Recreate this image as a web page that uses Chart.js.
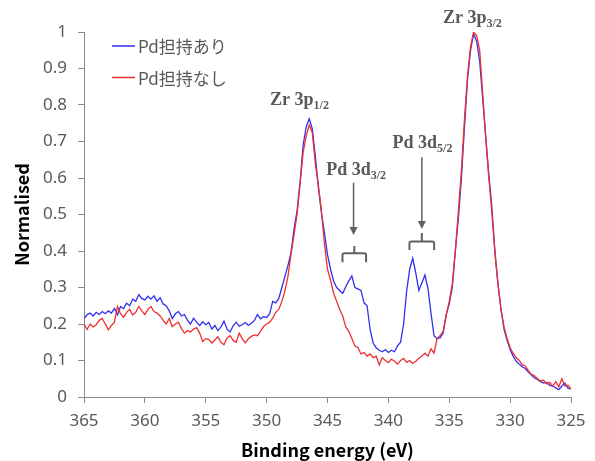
<!DOCTYPE html>
<html>
<head>
<meta charset="utf-8">
<script src="https://cdn.jsdelivr.net/npm/chart.js@4.4.1/dist/chart.umd.min.js"></script>
<style>
  html, body { margin: 0; padding: 0; background: #fff; }
  #wrap { width: 595px; height: 461px; }
</style>
</head>
<body>
<div id="wrap"><canvas id="myChart" width="595" height="461"></canvas></div>
<script>
// XPS spectrum, 0.25 eV steps
const energy = [
  365.00,364.75,364.50,364.25,364.00,363.75,363.50,363.25,363.00,362.75,362.50,362.25,362.00,361.75,361.50,361.25,361.00,360.75,360.50,360.25,
  360.00,359.75,359.50,359.25,359.00,358.75,358.50,358.25,358.00,357.75,357.50,357.25,357.00,356.75,356.50,356.25,356.00,355.75,355.50,355.25,
  355.00,354.75,354.50,354.25,354.00,353.75,353.50,353.25,353.00,352.75,352.50,352.25,352.00,351.75,351.50,351.25,351.00,350.75,350.50,350.25,
  350.00,349.75,349.50,349.25,349.00,348.75,348.50,348.25,348.00,347.75,347.50,347.25,347.00,346.75,346.50,346.25,346.00,345.75,345.50,345.25,
  345.00,344.75,344.50,344.25,344.00,343.75,343.50,343.25,343.00,342.75,342.50,342.25,342.00,341.75,341.50,341.25,341.00,340.75,340.50,340.25,
  340.00,339.75,339.50,339.25,339.00,338.75,338.50,338.25,338.00,337.75,337.50,337.25,337.00,336.75,336.50,336.25,336.00,335.75,335.50,335.25,
  335.00,334.75,334.50,334.25,334.00,333.75,333.50,333.25,333.00,332.75,332.50,332.25,332.00,331.75,331.50,331.25,331.00,330.75,330.50,330.25,
  330.00,329.75,329.50,329.25,329.00,328.75,328.50,328.25,328.00,327.75,327.50,327.25,327.00,326.75,326.50,326.25,326.00,325.75,325.50,325.25,
  325.00
];

// Pd担持あり
const withPd = [
  0.215,0.225,0.230,0.222,0.232,0.226,0.234,0.228,0.236,0.230,0.243,0.225,0.248,0.242,0.257,0.250,0.268,0.262,0.280,0.270,
  0.266,0.276,0.268,0.277,0.262,0.272,0.255,0.250,0.236,0.215,0.228,0.234,0.222,0.226,0.210,0.200,0.216,0.205,0.196,0.206,
  0.198,0.204,0.186,0.196,0.182,0.192,0.208,0.186,0.178,0.195,0.205,0.194,0.198,0.204,0.196,0.202,0.210,0.226,0.214,0.220,
  0.218,0.228,0.262,0.258,0.270,0.300,0.330,0.360,0.395,0.460,0.510,0.590,0.690,0.740,0.762,0.735,0.660,0.575,0.505,0.450,
  0.390,0.350,0.318,0.300,0.292,0.284,0.302,0.318,0.332,0.300,0.296,0.292,0.258,0.250,0.185,0.148,0.135,0.128,0.124,0.130,
  0.122,0.128,0.124,0.140,0.150,0.200,0.290,0.350,0.380,0.340,0.292,0.312,0.334,0.298,0.230,0.168,0.160,0.162,0.175,0.225,
  0.255,0.300,0.400,0.490,0.600,0.740,0.870,0.950,0.995,0.975,0.920,0.815,0.710,0.610,0.520,0.400,0.310,0.240,0.185,0.155,
  0.130,0.112,0.098,0.090,0.082,0.078,0.068,0.060,0.052,0.048,0.042,0.038,0.040,0.032,0.030,0.025,0.020,0.030,0.038,0.024,
  0.022
];

// Pd担持なし
const withoutPd = [
  0.200,0.185,0.200,0.192,0.198,0.210,0.215,0.200,0.184,0.196,0.205,0.248,0.228,0.218,0.232,0.240,0.225,0.232,0.248,0.236,
  0.226,0.240,0.248,0.234,0.230,0.222,0.210,0.200,0.215,0.193,0.200,0.205,0.188,0.175,0.182,0.178,0.186,0.190,0.175,0.152,
  0.160,0.158,0.148,0.156,0.165,0.150,0.143,0.162,0.168,0.155,0.150,0.175,0.160,0.148,0.160,0.166,0.170,0.168,0.180,0.193,
  0.200,0.205,0.216,0.232,0.240,0.262,0.290,0.330,0.390,0.445,0.500,0.585,0.670,0.715,0.745,0.725,0.640,0.580,0.510,0.420,
  0.350,0.320,0.285,0.262,0.240,0.222,0.192,0.180,0.160,0.140,0.135,0.118,0.122,0.112,0.118,0.108,0.112,0.088,0.108,0.100,
  0.094,0.104,0.098,0.090,0.100,0.106,0.095,0.100,0.092,0.098,0.106,0.112,0.120,0.112,0.132,0.120,0.160,0.168,0.180,0.225,
  0.262,0.310,0.400,0.510,0.620,0.760,0.880,0.960,1.000,0.990,0.950,0.830,0.710,0.600,0.505,0.395,0.310,0.240,0.192,0.160,
  0.135,0.120,0.108,0.100,0.088,0.085,0.072,0.062,0.058,0.050,0.044,0.046,0.036,0.040,0.030,0.042,0.028,0.050,0.030,0.032,
  0.022
];

const xTicks = [365, 360, 355, 350, 345, 340, 335, 330, 325];
const yTicks = [0, 0.1, 0.2, 0.3, 0.4, 0.5, 0.6, 0.7, 0.8, 0.9, 1];

const seriesNames = ['Pd担持あり', 'Pd担持なし'];
const seriesColors = ['#3030ee', '#ee2f2f'];

// peak labels: [main text, subscript, energy, value]
const peakLabels = [
  ['Zr 3p', '1/2', 347.3, 0.800],
  ['Zr 3p', '3/2', 333.1, 1.025],
  ['Pd 3d', '3/2', 342.65, 0.608],
  ['Pd 3d', '5/2', 337.2, 0.683]
];
// arrows: [energy, top value, tip value]
const arrows = [
  [342.86, 0.587, 0.444],
  [337.25, 0.657, 0.460]
];
// brackets: [left energy, right energy, bar value, tip value, nub value]
const brackets = [
  [343.77, 341.83, 0.394, 0.369, 0.414],
  [338.27, 336.24, 0.426, 0.403, 0.449]
];

const gray = '#595959';
const axisGray = '#8c8c8c';

const pts = (ys) => energy.map((e, i) => ({ x: e, y: ys[i] }));

const decorPlugin = {
  id: 'decor',
  afterDraw(chart) {
    const ctx = chart.ctx;
    const xs = chart.scales.x, ys = chart.scales.y;
    ctx.save();

    // legend
    ctx.font = '17px "Noto Sans CJK JP"';
    ctx.textBaseline = 'middle';
    ctx.textAlign = 'left';
    seriesNames.forEach((name, i) => {
      const ly = 46 + i * 31.5;
      ctx.strokeStyle = seriesColors[i];
      ctx.lineWidth = 1.5;
      ctx.beginPath();
      ctx.moveTo(112, ly);
      ctx.lineTo(135, ly);
      ctx.stroke();
      ctx.fillStyle = gray;
      ctx.fillText(name, 138, ly + 1);
    });

    // peak names
    ctx.fillStyle = gray;
    ctx.textBaseline = 'alphabetic';
    peakLabels.forEach(([main, sub, e, v]) => {
      ctx.font = 'bold 18px "Liberation Serif"';
      const w1 = ctx.measureText(main).width;
      ctx.font = 'bold 12px "Liberation Serif"';
      const w2 = ctx.measureText(sub).width;
      const x0 = xs.getPixelForValue(e) - (w1 + w2) / 2;
      const y0 = ys.getPixelForValue(v);
      ctx.font = 'bold 18px "Liberation Serif"';
      ctx.fillText(main, x0, y0);
      ctx.font = 'bold 12px "Liberation Serif"';
      ctx.fillText(sub, x0 + w1, y0 + 4);
    });

    // arrows
    ctx.strokeStyle = '#606060';
    ctx.fillStyle = '#606060';
    ctx.lineWidth = 1.5;
    arrows.forEach(([e, top, tip]) => {
      const ax = xs.getPixelForValue(e);
      const y1 = ys.getPixelForValue(top), y2 = ys.getPixelForValue(tip);
      ctx.beginPath();
      ctx.moveTo(ax, y1);
      ctx.lineTo(ax, y2 - 6);
      ctx.stroke();
      ctx.beginPath();
      ctx.moveTo(ax - 4, y2 - 8);
      ctx.lineTo(ax + 4, y2 - 8);
      ctx.lineTo(ax, y2);
      ctx.closePath();
      ctx.fill();
    });

    // brackets
    ctx.lineWidth = 2;
    brackets.forEach(([e1, e2, bar, tip, nub]) => {
      const x1 = xs.getPixelForValue(e1), x2 = xs.getPixelForValue(e2);
      const xm = (x1 + x2) / 2;
      const yb = ys.getPixelForValue(bar), yt = ys.getPixelForValue(tip), yn = ys.getPixelForValue(nub);
      ctx.beginPath();
      ctx.moveTo(x1, yt);
      ctx.lineTo(x1, yb + 2);
      ctx.quadraticCurveTo(x1, yb, x1 + 2, yb);
      ctx.lineTo(x2 - 2, yb);
      ctx.quadraticCurveTo(x2, yb, x2, yb + 2);
      ctx.lineTo(x2, yt);
      ctx.moveTo(xm, yb);
      ctx.lineTo(xm, yn);
      ctx.stroke();
    });

    ctx.restore();
  }
};

const ctx = document.getElementById('myChart');

const myChart = new Chart(ctx, {
  type: 'scatter',
  data: {
    datasets: [
      {
        label: seriesNames[0],
        data: pts(withPd),
        showLine: true,
        borderColor: seriesColors[0],
        borderWidth: 1.3,
        pointRadius: 0,
        order: 2
      },
      {
        label: seriesNames[1],
        data: pts(withoutPd),
        showLine: true,
        borderColor: seriesColors[1],
        borderWidth: 1.3,
        pointRadius: 0,
        order: 1
      }
    ]
  },
  options: {
    responsive: false,
    animation: false,
    devicePixelRatio: 1,
    layout: { padding: { top: 32, right: 24, bottom: 0, left: 0 } },
    plugins: {
      legend: { display: false },
      tooltip: { enabled: false }
    },
    scales: {
      x: {
        type: 'linear',
        reverse: true,
        min: 325,
        max: 365,
        afterBuildTicks: (s) => { s.ticks = xTicks.map(v => ({ value: v })); },
        afterFit: (s) => { s.height = 64; },
        ticks: {
          color: gray,
          font: { family: 'Noto Sans', size: 17 },
          padding: 8,
          maxRotation: 0
        },
        grid: { drawOnChartArea: false, color: axisGray, tickLength: 6 },
        border: { color: axisGray },
        title: {
          display: true,
          text: 'Binding energy (eV)',
          color: '#000',
          font: { family: 'Noto Sans CJK JP', size: 18, weight: 'bold', lineHeight: 1 },
          padding: { top: 0, bottom: 2 }
        }
      },
      y: {
        min: 0,
        max: 1,
        afterBuildTicks: (s) => { s.ticks = yTicks.map(v => ({ value: v })); },
        afterFit: (s) => { s.width = 84; },
        ticks: {
          color: gray,
          font: { family: 'Noto Sans', size: 17 },
          padding: 11,
          callback: (v) => String(v)
        },
        grid: { drawOnChartArea: false, color: axisGray, tickLength: 6 },
        border: { color: axisGray },
        title: {
          display: true,
          text: 'Normalised',
          color: '#000',
          font: { family: 'Noto Sans CJK JP', size: 18, weight: 'bold', lineHeight: 1 },
          padding: { top: 13, bottom: 0 }
        }
      }
    }
  },
  plugins: [decorPlugin]
});
</script>
</body>
</html>
